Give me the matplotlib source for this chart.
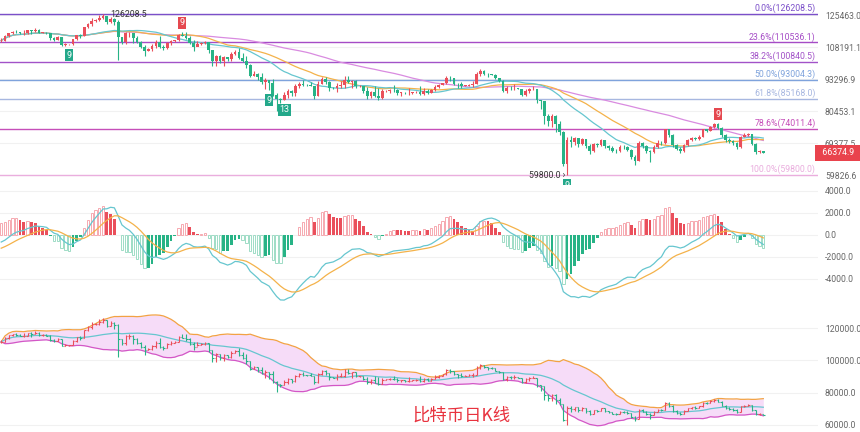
import numpy as np
import matplotlib
matplotlib.use("Agg")
import matplotlib.pyplot as plt
from matplotlib.transforms import blended_transform_factory

plt.rcParams['font.family'] = ['Roboto', 'DejaVu Sans']

# BTC daily candles (thousand USD), one per day starting 2025-09-09
closes = [111.5, 113.9, 115.4, 116.1, 115.9, 115.3, 115.3, 116.8, 116.4, 117.1,
          115.7, 115.7, 115.3, 112.7, 112.0, 113.3, 109.0, 109.6, 109.6, 112.1,
          114.4, 114.0, 118.6, 120.6, 122.3, 122.4, 123.5, 124.7, 121.4, 123.3,
          121.7, 113.2, 110.6, 115.2, 115.3, 113.0, 110.8, 108.2, 106.4, 107.2,
          108.6, 110.5, 108.4, 107.6, 110.0, 111.0, 111.6, 114.5, 114.1, 112.9,
          110.0, 108.3, 109.6, 110.1, 110.6, 106.5, 101.5, 103.9, 101.3, 103.3,
          102.3, 104.7, 105.9, 103.0, 101.6, 99.7, 94.5, 95.6, 94.2, 92.2,
          92.9, 91.5, 86.6, 85.1, 84.7, 86.8, 88.3, 87.3, 90.5, 91.3,
          90.9, 90.8, 90.4, 86.3, 91.3, 93.5, 92.1, 89.4, 89.3, 90.4,
          90.6, 92.7, 92.0, 92.5, 90.3, 90.3, 88.2, 86.4, 87.8, 86.1,
          85.5, 88.1, 88.3, 88.6, 88.5, 87.6, 87.6, 87.3, 87.3, 87.8,
          87.8, 87.1, 88.4, 87.5, 88.7, 89.9, 90.6, 91.4, 93.9, 93.7,
          91.3, 91.0, 90.5, 90.5, 90.8, 91.2, 95.3, 97.0, 95.6, 95.5,
          95.1, 93.6, 92.6, 88.3, 89.5, 89.4, 89.5, 89.2, 86.6, 88.2,
          89.1, 89.2, 84.5, 84.1, 78.6, 76.9, 78.7, 75.6, 73.0, 62.9,
          70.5, 69.8, 70.9, 69.0, 70.6, 68.4, 66.8, 69.0, 68.8, 70.3,
          68.4, 67.8, 67.0, 66.8, 68.2, 68.0, 67.2, 65.1, 63.9, 69.4,
          68.3, 66.8, 66.4, 68.2, 69.5, 69.3, 73.9, 72.0, 68.6, 67.6,
          66.8, 68.8, 70.3, 71.0, 70.8, 71.5, 73.9, 73.5, 74.7, 75.6,
          74.5, 71.9, 70.3, 70.0, 69.3, 68.0, 71.5, 72.0, 72.3, 69.2,
          66.6, 66.8, 66.3749]
highs = [112.6, 114.3, 115.5, 116.6, 116.8, 116.1, 116.8, 117.0, 117.3, 117.9,
         117.4, 116.2, 116.0, 115.4, 113.3, 113.9, 113.4, 110.0, 109.8, 112.3,
         114.5, 114.8, 118.6, 121.0, 123.9, 122.9, 125.4, 126.2085, 125.1, 124.2,
         123.8, 122.5, 113.5, 115.8, 116.0, 115.5, 113.6, 111.2, 109.2, 107.5,
         109.5, 111.7, 114.0, 109.1, 110.9, 112.0, 111.9, 115.0, 116.1, 116.1,
         113.6, 111.6, 111.2, 110.6, 111.2, 110.8, 106.6, 104.5, 104.1, 104.0,
         103.4, 105.5, 106.6, 107.5, 105.3, 104.0, 99.9, 96.8, 96.0, 96.0,
         93.8, 92.9, 93.2, 87.4, 85.6, 88.0, 89.2, 88.6, 91.0, 91.9,
         93.0, 91.2, 91.9, 90.4, 92.3, 94.1, 94.0, 92.3, 89.8, 91.7,
         92.3, 94.6, 94.5, 92.9, 92.7, 90.6, 90.5, 90.0, 88.2, 90.4,
         89.4, 88.9, 88.6, 89.0, 90.6, 88.9, 88.0, 88.0, 89.5, 88.0,
         88.2, 90.3, 89.3, 89.0, 88.9, 90.9, 91.0, 91.8, 94.7, 94.4,
         93.7, 91.5, 91.9, 90.7, 91.3, 92.4, 96.2, 97.9, 97.2, 95.8,
         95.6, 95.5, 93.5, 92.8, 90.5, 90.3, 91.1, 89.7, 89.2, 88.9,
         89.5, 90.5, 89.2, 84.8, 84.0, 79.3, 79.4, 79.1, 76.9, 73.2,
         71.5, 71.6, 71.3, 71.0, 70.9, 70.7, 69.0, 69.5, 69.5, 70.8,
         70.5, 68.9, 68.3, 67.6, 68.8, 68.6, 68.4, 67.5, 65.6, 69.9,
         69.8, 68.6, 67.3, 68.6, 70.2, 69.9, 74.1, 74.0, 72.4, 69.2,
         68.0, 69.2, 70.7, 71.4, 71.5, 72.0, 74.1, 74.2, 75.2, 76.0,
         76.1, 74.7, 72.3, 70.9, 70.4, 69.7, 71.8, 72.6, 72.8, 72.4,
         69.3, 67.3, 67.0]
lows = [110.6, 111.5, 113.4, 114.8, 115.3, 115.0, 114.4, 114.8, 114.7, 116.2,
        115.3, 115.2, 114.8, 111.9, 111.5, 111.9, 108.7, 108.6, 109.1, 109.3,
        111.6, 112.7, 113.9, 117.9, 119.3, 121.7, 122.1, 123.1, 120.6, 121.0,
        119.7, 102.0, 109.7, 109.8, 113.1, 110.0, 110.2, 107.5, 103.6, 106.4,
        106.1, 107.5, 107.5, 106.7, 107.4, 109.3, 110.9, 111.3, 113.8, 112.2,
        109.5, 106.2, 108.6, 109.4, 109.5, 105.3, 98.9, 98.9, 100.3, 99.3,
        101.4, 101.5, 104.5, 102.5, 100.8, 98.0, 94.0, 94.6, 93.0, 91.3,
        89.2, 88.6, 86.1, 80.6, 83.6, 84.7, 85.3, 86.1, 86.3, 89.6,
        90.2, 90.3, 90.3, 85.2, 86.2, 91.0, 91.0, 88.1, 88.9, 87.8,
        89.6, 89.6, 91.6, 89.3, 89.5, 89.8, 87.6, 85.2, 85.3, 85.8,
        84.5, 85.1, 87.9, 87.6, 87.9, 86.6, 86.4, 86.9, 86.6, 87.2,
        87.5, 86.8, 86.8, 87.2, 87.3, 88.4, 89.3, 90.6, 91.0, 92.4,
        90.8, 89.3, 89.6, 90.3, 90.2, 90.0, 91.0, 94.5, 95.0, 94.2,
        94.9, 93.4, 91.9, 87.8, 87.3, 88.6, 88.5, 88.9, 86.1, 86.2,
        87.3, 88.8, 83.4, 81.1, 75.7, 75.0, 74.6, 73.0, 72.1, 62.4,
        59.8, 68.2, 68.9, 68.0, 68.6, 67.7, 65.9, 66.5, 68.2, 68.5,
        67.8, 67.2, 66.5, 66.2, 66.5, 67.5, 66.8, 64.5, 62.6, 63.7,
        67.9, 66.3, 63.6, 66.1, 67.9, 68.8, 69.0, 71.4, 68.1, 67.1,
        66.3, 66.6, 68.5, 70.0, 70.2, 70.5, 71.3, 72.9, 73.3, 74.3,
        74.0, 71.5, 69.8, 69.5, 68.9, 67.5, 67.8, 71.2, 71.6, 68.8,
        66.0, 66.3, 66.1]
first_open = 111.2
last_price = 66374.9

fib_high = 126208.5
fib_low = 59800.0
fib_ratios = [0.0, 0.236, 0.382, 0.5, 0.618, 0.786, 1.0]
fib_colors = ['#7b4fc9', '#a54cc6', '#a252c8', '#7fa3dc', '#a7b7e0', '#c64fb9', '#eaaede']

price_ticks = [125463.0, 108191.1, 93296.9, 80453.1, 69377.5, 59826.6]
macd_ticks = [4000, 2000, 0, -2000, -4000]
boll_ticks = [120000, 100000, 80000, 60000]

# TD sequential marks: (candle index, text, above/below)
td_marks = [(18, '9', 'below'), (48, '9', 'above'), (71, '9', 'below'),
            (75, '13', 'below'), (150, '9', 'below'), (190, '9', 'above')]

# MACD state at the first candle
dif_start = -640.0
dea_start = -1200.0

up_color = '#ea4f5b'
down_color = '#27b386'

c = np.array(closes) * 1000
h = np.array(highs) * 1000
l = np.array(lows) * 1000
o = np.concatenate([[first_open * 1000], c[:-1]])
x = np.arange(len(c))
up = c >= o


def sma(v, n):
    out = np.empty(len(v))
    for i in range(len(v)):
        out[i] = v[max(0, i - n + 1):i + 1].mean()
    return out


def ema(v, n, seed):
    a = 2.0 / (n + 1)
    out = np.empty(len(v))
    prev = seed
    for i, val in enumerate(v):
        prev = a * val + (1 - a) * prev if i else seed
        out[i] = prev
    return out


ema_fast = ema(c, 12, c[0] + 800)
ema_slow = ema(c, 26, c[0] + 800 - dif_start)
dif = ema_fast - ema_slow
dea = ema(dif, 9, dea_start)
hist = 2 * (dif - dea)

fig = plt.figure(figsize=(8.6, 4.32), dpi=100)
W = 818 / 860
ax1 = fig.add_axes([0, 1 - 185 / 432, W, 185 / 432])
ax2 = fig.add_axes([0, 1 - 305 / 432, W, 120 / 432], sharex=ax1)
ax3 = fig.add_axes([0, 0, W, 127 / 432], sharex=ax1)

for ax in (ax1, ax2, ax3):
    for s in ax.spines.values():
        s.set_visible(False)
    ax.yaxis.tick_right()
    ax.tick_params(axis='y', length=0, pad=5, labelsize=6.2, labelcolor='#666666')
    ax.tick_params(axis='x', length=0, labelbottom=False)
    ax.grid(axis='y', color='#f1f1f1', lw=0.8)
    ax.set_axisbelow(True)

ax1.set_xlim(-0.32, 216.5)

# ---- price panel
ax1.set_yscale('log')
ax1.set_ylim(57125, 134500)
ax1.set_yticks(price_ticks)
ax1.set_yticklabels(['%.1f' % t for t in price_ticks])
ax1.yaxis.set_minor_locator(matplotlib.ticker.NullLocator())

for r, col in zip(fib_ratios, fib_colors):
    lv = fib_high - r * (fib_high - fib_low)
    ax1.axhline(lv, color=col, lw=1.0, zorder=1)
    ax1.text(0.997, lv * 1.004, '%.1f%%(%.1f)' % (r * 100, lv + 1e-6), color=col,
             fontsize=6.3, ha='right', va='bottom',
             transform=blended_transform_factory(ax1.transAxes, ax1.transData))

ax1.plot(x, sma(c, 60), color='#d98be0', lw=0.9, zorder=2)
ax1.plot(x, sma(c, 30), color='#f4b24a', lw=0.9, zorder=2)
ax1.plot(x, sma(c, 20), color='#66c6cf', lw=0.9, zorder=2)

cols = np.where(up, up_color, down_color)
ax1.vlines(x, l, h, colors=cols, lw=0.8, zorder=3)
bottom = np.minimum(o, c)
height = np.maximum(np.abs(c - o), bottom * 0.0015)
ax1.bar(x, height, bottom=bottom, width=0.72, color=cols, lw=0, zorder=4)

imax = int(np.argmax(h))
imin = int(np.argmin(l))
ax1.annotate('126208.5', (imax, h[imax]), xytext=(7, -1), textcoords='offset pixels',
             fontsize=6.3, color='#333333', ha='left', va='center')
ax1.annotate('59800.0 ›', (imin, l[imin]), xytext=(-2, 0), textcoords='offset pixels',
             fontsize=6.3, color='#333333', ha='right', va='center')

for i, t, pos in td_marks:
    if pos == 'above':
        xy, dy, fc = (i, h[i]), 9, '#e5484f'
    else:
        xy, dy, fc = (i, l[i]), -10, '#23a88a'
    ax1.annotate(t, xy, xytext=(0, dy), textcoords='offset pixels', fontsize=6.5,
                 color='white', ha='center', va='center', zorder=6,
                 bbox=dict(boxstyle='square,pad=0.18', fc=fc, ec='none'))

ax1.text(1.0, last_price, '  66374.9  ', color='white', fontsize=6.3, ha='left', va='center',
         transform=blended_transform_factory(ax1.transAxes, ax1.transData),
         bbox=dict(boxstyle='square,pad=0.4', fc='#e9434d', ec='none'), clip_on=False)

# ---- MACD panel
ax2.set_ylim(-6364, 4545)
ax2.set_yticks(macd_ticks)
ax2.set_yticklabels(['%.1f' % t for t in macd_ticks])
prev = np.concatenate([[0], hist[:-1]])
growing = np.abs(hist) >= np.abs(prev)
for i in range(len(hist)):
    pos = hist[i] >= 0
    solid = up_color if pos else down_color
    light = '#f6a9b0' if pos else '#9fdcc6'
    if growing[i]:
        ax2.bar(i, hist[i], width=0.62, color='white', edgecolor=light, lw=0.7, zorder=3)
    else:
        ax2.bar(i, hist[i], width=0.72, color=solid, lw=0, zorder=3)
ax2.plot(x, dif, color='#66c6cf', lw=0.9, zorder=4)
ax2.plot(x, dea, color='#f4b24a', lw=0.9, zorder=4)

# ---- BOLL panel
ax3.set_ylim(55666, 134240)
ax3.set_yticks(boll_ticks)
ax3.set_yticklabels(['%.1f' % t for t in boll_ticks])
mid = sma(c, 20)
sd = np.array([c[max(0, i - 19):i + 1].std() for i in range(len(c))])
upper = mid + 2 * sd
lower = mid - 2 * sd
ax3.fill_between(x, lower, upper, color='#f6dcf8', lw=0, zorder=1)
ax3.plot(x, upper, color='#f2a244', lw=0.9, zorder=2)
ax3.plot(x, lower, color='#d357c6', lw=0.9, zorder=2)
ax3.plot(x, mid, color='#66c6cf', lw=0.9, zorder=2)
ax3.vlines(x, l, h, colors=cols, lw=0.8, zorder=3)
ax3.hlines(o, x - 0.38, x, colors=cols, lw=0.8, zorder=3)
ax3.hlines(c, x, x + 0.38, colors=cols, lw=0.8, zorder=3)

fig.text(0.537, 0.039, '比特币日K线', color='#e8333f', fontsize=12.5, ha='center', va='center',
         family=['Noto Sans CJK SC', 'DejaVu Sans'])

fig.savefig('out.png', dpi=100)
